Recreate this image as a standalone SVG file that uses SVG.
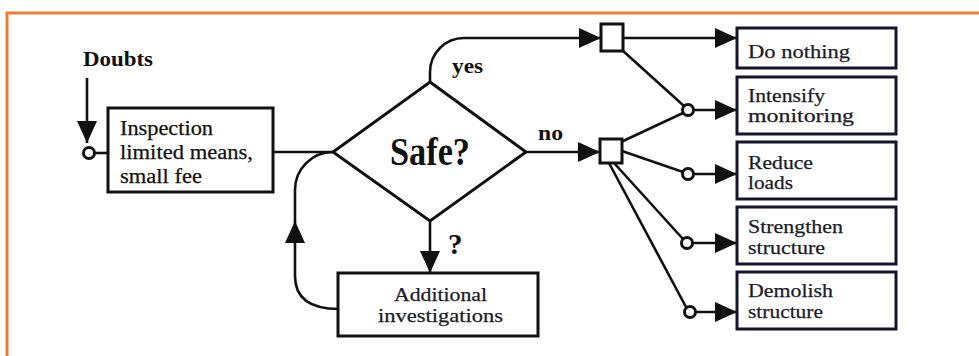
<svg xmlns="http://www.w3.org/2000/svg" width="979" height="356" viewBox="0 0 979 356">
<style>
  .frame{fill:none;stroke:#ED7D31;stroke-width:3}
  .box{fill:#fff;stroke:#111;stroke-width:3}
  .rbox{fill:#fff;stroke:#15152b;stroke-width:3}
  .ln{fill:none;stroke:#111;stroke-width:2.6}
  .arr{marker-end:url(#ah)}
  .circ{fill:#fff;stroke:#111;stroke-width:3}
  text{font-family:"Liberation Serif","DejaVu Serif",serif}
  .t{font-size:20px;fill:#111;stroke:#111;stroke-width:0.25}
  .rt{font-size:19.5px;fill:#1a1a2a;stroke:#1a1a2a;stroke-width:0.25}
  .b{font-weight:bold;fill:#111}
</style>
<defs>
  <marker id="ah" markerUnits="userSpaceOnUse" markerWidth="22" markerHeight="20" refX="22" refY="10" orient="auto" viewBox="0 0 22 20">
    <path d="M0,0 L22,10 L0,20 z" fill="#111"/>
  </marker>
</defs>
<rect width="979" height="356" fill="#fff"/>
<path class="frame" d="M7,360 L7,13 L985,13"/>

<g id="connectors">
  <line class="ln arr" x1="87" y1="78" x2="87" y2="143"/>
  <line class="ln" x1="94" y1="153" x2="108" y2="153"/>
  <line class="ln" x1="273" y1="152" x2="333" y2="152"/>
  <path class="ln arr" d="M339,309 C312,309 295,300 295,276 L295,221"/>
  <path class="ln" d="M295,221 L295,190 A38,38 0 0 1 333,152"/>
  <path class="ln arr" d="M430,82 L430,72 A34,34 0 0 1 464,38 L601,38"/>
  <line class="ln arr" x1="526" y1="152" x2="600" y2="152"/>
  <line class="ln arr" x1="430" y1="221" x2="430" y2="273"/>
  <line class="ln arr" x1="623" y1="38" x2="737" y2="38"/>
  <line class="ln" x1="622" y1="50" x2="684" y2="106"/>
  <line class="ln" x1="621" y1="142" x2="683" y2="113"/>
  <line class="ln" x1="622" y1="151" x2="683" y2="172"/>
  <line class="ln" x1="614" y1="163" x2="683" y2="239"/>
  <line class="ln" x1="609" y1="163" x2="686" y2="307"/>
  <line class="ln arr" x1="694" y1="110" x2="737" y2="110"/>
  <line class="ln arr" x1="694" y1="174" x2="737" y2="174"/>
  <line class="ln arr" x1="693" y1="243" x2="737" y2="243"/>
  <line class="ln arr" x1="696" y1="312" x2="737" y2="312"/>
  <circle class="circ" cx="89" cy="153" r="5.5"/>
  <circle class="circ" cx="688" cy="110" r="5.5"/>
  <circle class="circ" cx="688" cy="174" r="5.5"/>
  <circle class="circ" cx="687" cy="243" r="5.5"/>
  <circle class="circ" cx="690" cy="312" r="5.5"/>
  <rect class="box" x="601" y="24" width="22" height="27"/>
  <rect class="box" x="600" y="139" width="22" height="24"/>
</g>

<g id="doubts">
  <text class="b" x="83" y="66" font-size="22" textLength="70" lengthAdjust="spacingAndGlyphs">Doubts</text>
</g>

<g id="inspection">
  <rect class="box" x="108" y="108" width="165" height="84"/>
  <text class="t" x="120" y="135" textLength="93" lengthAdjust="spacingAndGlyphs">Inspection</text>
  <text class="t" x="120" y="159" textLength="133" lengthAdjust="spacingAndGlyphs">limited means,</text>
  <text class="t" x="120" y="183" textLength="82" lengthAdjust="spacingAndGlyphs">small fee</text>
</g>

<g id="safe">
  <path class="box" d="M430,82 L526,152 L430,221 L333,152 z"/>
  <text class="b" x="430" y="165" font-size="39" text-anchor="middle" textLength="80" lengthAdjust="spacingAndGlyphs">Safe?</text>
</g>

<g id="labels">
  <text class="b" x="452" y="73" font-size="21" textLength="31" lengthAdjust="spacingAndGlyphs">yes</text>
  <text class="b" x="538" y="140" font-size="21" textLength="25" lengthAdjust="spacingAndGlyphs">no</text>
  <text class="b" x="448" y="254" font-size="29">?</text>
</g>

<g id="additional">
  <rect class="box" x="338" y="273" width="200" height="63"/>
  <text class="rt" x="394" y="301" textLength="93" lengthAdjust="spacingAndGlyphs">Additional</text>
  <text class="rt" x="378" y="322" textLength="125" lengthAdjust="spacingAndGlyphs">investigations</text>
</g>

<g id="do-nothing">
  <rect class="rbox" x="737" y="28" width="159" height="40"/>
  <text class="rt" x="748" y="58" textLength="102" lengthAdjust="spacingAndGlyphs">Do nothing</text>
</g>
<g id="intensify">
  <rect class="rbox" x="737" y="77" width="159" height="57"/>
  <text class="rt" x="748" y="102" textLength="77" lengthAdjust="spacingAndGlyphs">Intensify</text>
  <text class="rt" x="748" y="122" textLength="106" lengthAdjust="spacingAndGlyphs">monitoring</text>
</g>
<g id="reduce">
  <rect class="rbox" x="737" y="142" width="159" height="57"/>
  <text class="rt" x="748" y="169" textLength="65" lengthAdjust="spacingAndGlyphs">Reduce</text>
  <text class="rt" x="748" y="189" textLength="45" lengthAdjust="spacingAndGlyphs">loads</text>
</g>
<g id="strengthen">
  <rect class="rbox" x="737" y="207" width="159" height="57"/>
  <text class="rt" x="748" y="233" textLength="95" lengthAdjust="spacingAndGlyphs">Strengthen</text>
  <text class="rt" x="748" y="254" textLength="77" lengthAdjust="spacingAndGlyphs">structure</text>
</g>
<g id="demolish">
  <rect class="rbox" x="737" y="272" width="159" height="57"/>
  <text class="rt" x="748" y="297" textLength="85" lengthAdjust="spacingAndGlyphs">Demolish</text>
  <text class="rt" x="748" y="318" textLength="75" lengthAdjust="spacingAndGlyphs">structure</text>
</g>
</svg>
